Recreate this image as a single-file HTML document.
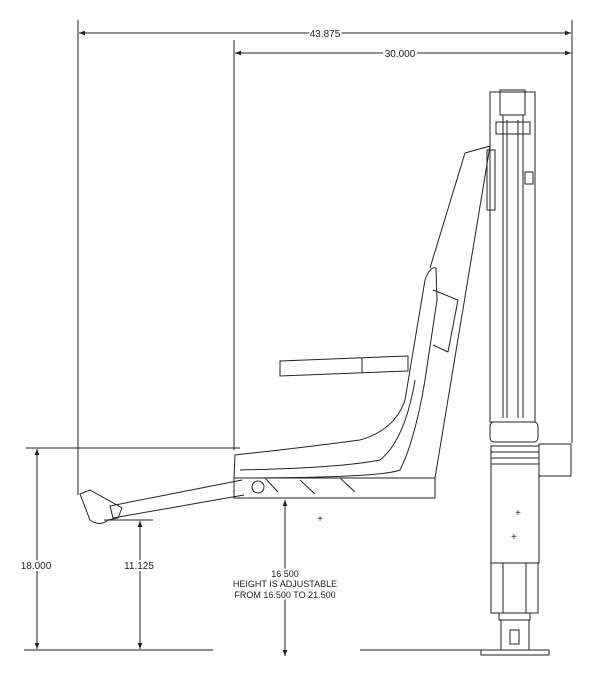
<!DOCTYPE html>
<html><head><style>
html,body{margin:0;padding:0;background:#fff;}
svg{display:block;}
text{font-family:"Liberation Sans",sans-serif;fill:#222;}
</style></head><body>
<svg width="604" height="676" viewBox="0 0 604 676" xmlns="http://www.w3.org/2000/svg">
<defs><marker id="a" viewBox="0 0 10 10" refX="10" refY="5" markerWidth="8" markerHeight="6" orient="auto-start-reverse"><path d="M0,1 L10,5 L0,9 z" fill="#222"/></marker></defs>
<g stroke="#222" stroke-width="1" fill="none">
<!-- extension lines -->
<line x1="78" y1="20" x2="78" y2="495"/>
<line x1="234" y1="40" x2="234" y2="450"/>
<line x1="572" y1="20" x2="572" y2="443"/>
<!-- dims top -->
<line x1="79" y1="33" x2="571" y2="33" marker-start="url(#a)" marker-end="url(#a)"/>
<line x1="235" y1="53" x2="571" y2="53" marker-start="url(#a)" marker-end="url(#a)"/>
<!-- left dims -->
<line x1="26" y1="448" x2="240" y2="448"/>
<line x1="37" y1="449" x2="37" y2="649" marker-start="url(#a)" marker-end="url(#a)"/>
<line x1="104" y1="520" x2="153" y2="520"/>
<line x1="140" y1="521" x2="140" y2="649" marker-start="url(#a)" marker-end="url(#a)"/>
<line x1="24" y1="650" x2="213" y2="650"/>
<line x1="360" y1="650" x2="482" y2="650"/>
<line x1="285" y1="500" x2="285" y2="656" marker-start="url(#a)" marker-end="url(#a)"/>
<!-- mast -->
<rect x="490" y="92" width="45" height="330"/>
<rect x="500" y="90" width="25" height="25"/>
<line x1="503" y1="115" x2="503" y2="418"/><line x1="507" y1="120" x2="507" y2="418"/>
<line x1="518" y1="120" x2="518" y2="418"/><line x1="523" y1="115" x2="523" y2="418"/>
<rect x="496" y="122" width="34" height="12"/>
<rect x="525" y="172" width="8" height="12"/>
<rect x="490" y="422" width="48" height="20" rx="4"/>
<rect x="491" y="446" width="48" height="117"/>
<line x1="491" y1="452" x2="539" y2="452"/><line x1="491" y1="458" x2="539" y2="458"/><line x1="491" y1="464" x2="539" y2="464"/>
<rect x="539" y="444" width="32" height="32"/>
<rect x="491" y="563" width="47" height="50"/>
<line x1="503" y1="563" x2="503" y2="613"/><line x1="526" y1="563" x2="526" y2="613"/>
<rect x="499" y="613" width="31" height="7"/>
<rect x="501" y="620" width="28" height="30"/>
<rect x="510" y="630" width="9" height="14"/>
<rect x="481" y="650" width="68" height="5"/>
<text x="515" y="516" font-size="10" stroke="none">+</text>
<text x="511" y="540" font-size="10" stroke="none" fill="#222">+</text>
<!-- backrest -->
<path d="M465,153 L490,146 L435,478"/>
<path d="M465,153 L430,268"/>
<rect x="487" y="150" width="8" height="60"/>
<!-- seat -->
<path d="M235,455 Q300,448 360,440 Q395,430 405,400 L425,280 Q430,266 436,268 L437,300 L425,380 Q415,440 400,470 Q380,478 234,478 Z"/>
<path d="M240,470 Q340,468 380,460 Q405,440 415,380"/>
<rect x="234" y="478" width="201" height="20"/>
<path d="M433,290 L458,300 L448,352 L433,345"/>
<!-- armrest -->
<path d="M280,361 L408,356 L408,371 L280,376 Z"/>
<line x1="362" y1="358" x2="362" y2="373"/>
<!-- seat rail pins -->
<circle cx="258" cy="487" r="6"/>
<line x1="265" y1="478" x2="278" y2="492"/><line x1="300" y1="480" x2="315" y2="494"/><line x1="340" y1="478" x2="355" y2="492"/>
<!-- footrest strut -->
<path d="M242,480 L110,506 L113,518 L244,495"/>
<path d="M80,494 L90,490 L122,508 L118,518 L108,520 Q100,527 90,520 Z"/>
</g>
<g font-size="10" text-anchor="middle">
<text x="325" y="37" style="paint-order:stroke" stroke="#fff" stroke-width="4">43.875</text>
<text x="400" y="57" style="paint-order:stroke" stroke="#fff" stroke-width="4">30.000</text>
<text x="36" y="569" style="paint-order:stroke" stroke="#fff" stroke-width="4">18.000</text>
<text x="139" y="569" style="paint-order:stroke" stroke="#fff" stroke-width="4">11.125</text>
<text x="285" y="577" font-size="9" style="paint-order:stroke" stroke="#fff" stroke-width="4">16.500</text>
<text x="285" y="587" font-size="9" style="paint-order:stroke" stroke="#fff" stroke-width="4">HEIGHT IS ADJUSTABLE</text>
<text x="285" y="598" font-size="9" style="paint-order:stroke" stroke="#fff" stroke-width="4">FROM 16.500 TO 21.500</text>
<text x="320" y="522">+</text>
</g>
</svg>
</body></html>
